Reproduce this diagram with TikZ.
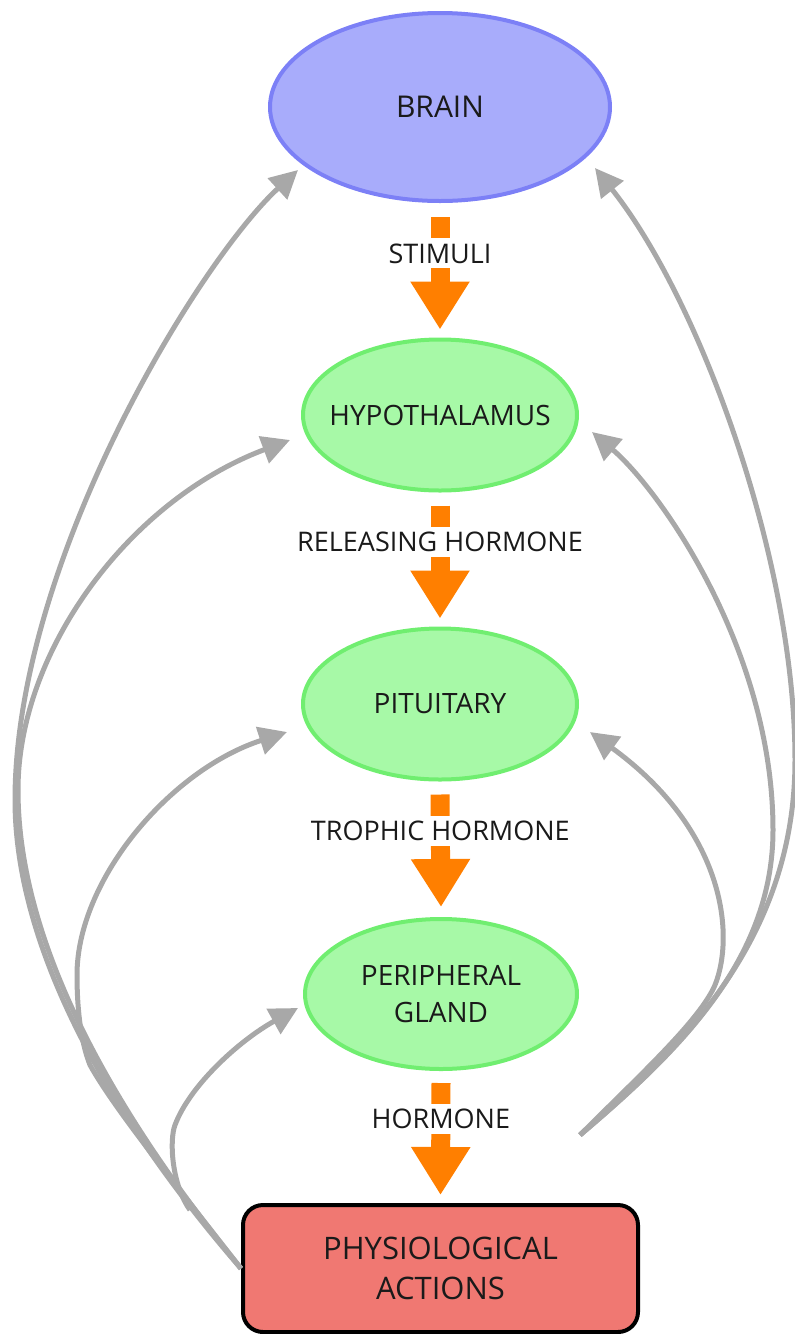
\documentclass[tikz,border=0pt]{standalone}
\usepackage{fontspec}
\setmainfont{Open Sans}
\usetikzlibrary{arrows.meta,shapes.geometric}
\definecolor{brainfill}{HTML}{A8ACFB}
\definecolor{brainline}{HTML}{7C80F6}
\definecolor{greenfill}{HTML}{A7F9A7}
\definecolor{greenline}{HTML}{70EE70}
\definecolor{orangec}{HTML}{FF7F00}
\definecolor{grayc}{HTML}{A8A8A8}
\definecolor{physfill}{HTML}{F07872}
\definecolor{txt}{HTML}{1A1A1A}
\tikzset{
  ell/.style={ellipse, line width=4pt, text=txt, align=center,
    font=\fontsize{28}{37}\selectfont},
  brainstyle/.style={ell, fill=brainfill, draw=brainline, minimum width=340pt, minimum height=188pt,
    font=\fontsize{30}{36}\selectfont},
  greenell/.style={ell, fill=greenfill, draw=greenline, minimum width=274pt, minimum height=151pt},
  physbox/.style={rectangle, rounded corners=20pt, draw=black, line width=4pt, fill=physfill,
    minimum width=395pt, minimum height=127pt, align=center, text=txt,
    font=\fontsize{31}{40}\selectfont},
  orangearr/.style={draw=orangec, line width=19pt, -{Triangle[length=48pt,width=56pt]}},
  lbl/.style={fill=white, text=txt, font=\fontsize{27}{32}\selectfont, text height=20pt,
    text depth=0pt, inner xsep=2pt, inner ysep=5pt},
  gr/.style={draw=grayc, line width=5pt, -{Triangle[length=28pt,width=28pt]}}
}
\begin{document}
\begin{tikzpicture}[x=1pt,y=-1pt]
\useasboundingbox (0,0) rectangle (795,1334);
% nodes
\node[brainstyle] (brain) at (440,107) {BRAIN};
\node[greenell] (hypo) at (440,415) {\makebox[0pt]{HYPOTHALAMUS}};
\node[greenell] (pit) at (440,704) {PITUITARY};
\node[greenell, minimum width=272pt, minimum height=150pt] (gland) at (441,994) {PERIPHERAL\\GLAND};
\node[physbox] (phys) at (440.5,1268.5) {PHYSIOLOGICAL\\ACTIONS};
% free ends
\coordinate (lo2) at (190,1210);
\coordinate (ro) at (580,1135);
\coordinate (tBL) at (298,170);
\coordinate (tHL) at (290,440);
\coordinate (tPL) at (287,732);
\coordinate (tGL) at (298,1008);
\coordinate (tBR) at (595,168);
\coordinate (tHR) at (592,432);
\coordinate (tPR) at (590,732);
% orange arrows
\draw[orangearr] ([yshift=-14pt]brain.south) -- ([yshift=8pt]hypo.north) node[pos=0.32, lbl] {STIMULI};
\draw[orangearr] ([yshift=-13pt]hypo.south) -- ([yshift=8pt]pit.north) node[pos=0.32, lbl] {RELEASING HORMONE};
\draw[orangearr] ([yshift=-13pt]pit.south) -- ([yshift=10pt]gland.north) node[pos=0.32, lbl] {TROPHIC HORMONE};
\draw[orangearr] ([yshift=-12pt]gland.south) -- ([yshift=8pt]phys.north) node[pos=0.32, lbl] {HORMONE};
% gray feedback arrows, left
\draw[gr] (phys.west) .. controls (125,1135) and (15,960) .. (15,800)
  .. controls (15,560) and (200,260) .. (tBL);
\draw[gr] (phys.west) .. controls (128,1130) and (18,955) .. (18,790)
  .. controls (18,650) and (130,500) .. (tHL);
\draw[gr] (phys.west) .. controls (180,1190) and (115,1110) .. (90,1065)
  .. controls (80,1040) and (77,1005) .. (77,975)
  .. controls (77,880) and (170,770) .. (tPL);
\draw[gr] (lo2) .. controls (172,1185) and (169,1141) .. (175,1125)
  .. controls (190,1085) and (240,1040) .. (tGL);
% gray feedback arrows, right
\draw[gr] (ro) .. controls (680,1050) and (795,940) .. (795,760)
  .. controls (795,560) and (700,300) .. (tBR);
\draw[gr] (ro) .. controls (678,1052) and (773,960) .. (773,830)
  .. controls (773,650) and (660,490) .. (tHR);
\draw[gr] (ro) .. controls (640,1075) and (700,1020) .. (715,985)
  .. controls (735,935) and (725,830) .. (tPR);
\end{tikzpicture}
\end{document}
